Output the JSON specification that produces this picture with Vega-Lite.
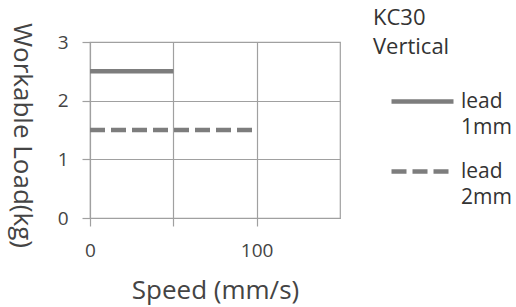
{
  "$schema": "https://vega.github.io/schema/vega-lite/v6.json",
  "width": 250,
  "height": 176,
  "autosize": {"type": "none"},
  "padding": {"left": 90, "top": 42, "right": 176, "bottom": 89},
  "background": "white",
  "config": {
    "font": "Open Sans",
    "view": {"stroke": "#a0a0a0", "strokeWidth": 1.2},
    "style": {"guide-label": {"lineHeight": 26}},
    "axis": {"gridColor": "#a0a0a0", "gridOpacity": 1, "gridWidth": 1.2, "domain": false, "tickColor": "#a0a0a0", "tickWidth": 1.2, "tickSize": 8, "labelColor": "#444", "titleColor": "#444", "labelFont": "Open Sans", "titleFont": "Open Sans", "titleFontWeight": "normal"}
  },
  "data": {
    "values": [
      {"speed": 0, "load": 2.5, "lead": "1mm"},
      {"speed": 50, "load": 2.5, "lead": "1mm"},
      {"speed": 0, "load": 1.5, "lead": "2mm"},
      {"speed": 100, "load": 1.5, "lead": "2mm"}
    ]
  },
  "mark": {"type": "line", "strokeWidth": 4.5, "color": "#7d7d7d", "strokeCap": "butt"},
  "encoding": {
    "x": {
      "field": "speed", "type": "quantitative",
      "scale": {"domain": [0, 150], "nice": false},
      "axis": {"values": [0, 50, 100], "labelExpr": "datum.value % 100 == 0 ? datum.label : ''", "title": "Speed (mm/s)", "titleFontSize": 26, "labelFontSize": 19, "labelPadding": 15, "titlePadding": 17, "labelFlush": false}
    },
    "y": {
      "field": "load", "type": "quantitative",
      "scale": {"domain": [0, 3], "nice": false},
      "axis": {"values": [0, 1, 2, 3], "title": "Workable Load(kg)", "titleAngle": 90, "titleFontSize": 26, "labelFontSize": 19, "labelPadding": 14, "titleBaseline": "middle", "titleX": -69, "titleY": 93}
    },
    "strokeDash": {
      "field": "lead", "type": "nominal",
      "scale": {"domain": ["1mm", "2mm"], "range": [[1, 0], [15, 6]]},
      "legend": {
        "orient": "none", "legendX": 283, "legendY": -34,
        "title": ["KC30", "Vertical"], "titleFontSize": 22, "titleFontWeight": "normal", "titleColor": "#333", "titleLineHeight": 29, "titlePadding": 9,
        "symbolType": "stroke", "symbolSize": 3844, "symbolStrokeWidth": 4.5, "symbolStrokeColor": "#7d7d7d", "symbolOffset": 16,
        "labelExpr": "['lead', datum.label]", "labelFontSize": 21, "labelColor": "#333", "labelOffset": 5, "rowPadding": -19, "labelBaseline": "middle"
      }
    }
  }
}
